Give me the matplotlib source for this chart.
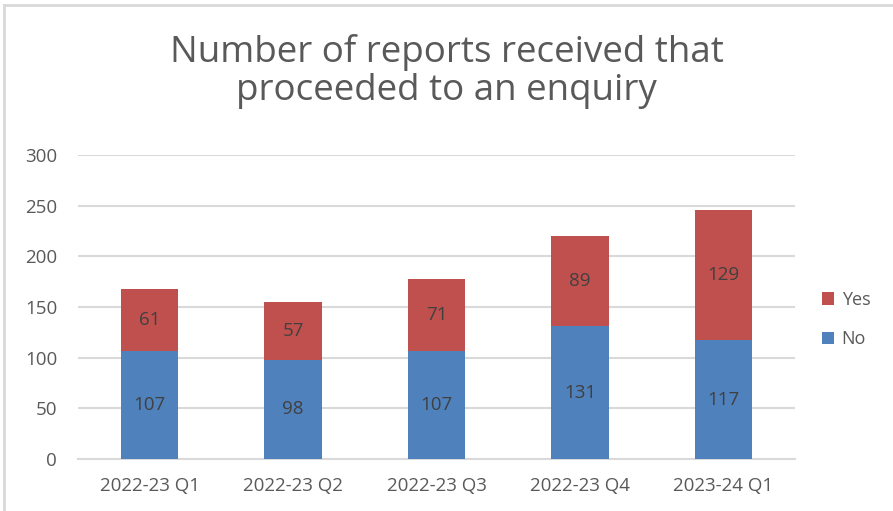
import numpy as np
import matplotlib.pyplot as plt
from matplotlib.lines import Line2D

plt.rcParams['font.family'] = ['Open Sans', 'DejaVu Sans']

quarters = ['2022-23 Q1', '2022-23 Q2', '2022-23 Q3', '2022-23 Q4', '2023-24 Q1']
no_counts = [107, 98, 107, 131, 117]
yes_counts = [61, 57, 71, 89, 129]

blue = '#4f81bd'
red = '#c0504d'
grid_col = '#d9d9d9'
text_col = '#595959'
label_col = '#404040'

fig = plt.figure(figsize=(8.93, 5.11), dpi=100)
ax = fig.add_axes([0.0873, 0.1018, 0.8030, 0.5949])

x = np.arange(len(quarters))
width = 0.4
bars_no = ax.bar(x, no_counts, width, color=blue, label='No', zorder=3)
bars_yes = ax.bar(x, yes_counts, width, bottom=no_counts, color=red, label='Yes', zorder=3)

# value labels in the middle of each segment
for b, v in zip(bars_no, no_counts):
    ax.text(b.get_x() + b.get_width() / 2, b.get_y() + v / 2, str(v),
            ha='center', va='center', fontsize=13.5, color=label_col, zorder=4)
for b, v in zip(bars_yes, yes_counts):
    ax.text(b.get_x() + b.get_width() / 2, b.get_y() + v / 2, str(v),
            ha='center', va='center', fontsize=13.5, color=label_col, zorder=4)

ax.set_xlim(-0.5, len(quarters) - 0.5)
ax.set_ylim(0, 300)
ax.set_yticks(range(0, 301, 50))
ax.set_xticks(x)
ax.set_xticklabels(quarters)
ax.tick_params(axis='both', length=0, labelsize=13.5, labelcolor=text_col)
ax.tick_params(axis='y', pad=15)
ax.tick_params(axis='x', pad=13)
ax.yaxis.grid(True, color=grid_col, linewidth=1.5, zorder=0)
for s in ['top', 'right', 'left']:
    ax.spines[s].set_visible(False)
ax.spines['bottom'].set_color(grid_col)
ax.spines['bottom'].set_linewidth(1.5)

fig.text(0.5, 0.86, 'Number of reports received that\nproceeded to an enquiry',
         ha='center', va='center', fontsize=26.5, color=text_col, linespacing=1.08)

handles, labels = ax.get_legend_handles_labels()
fig.legend(handles[::-1], labels[::-1], loc='center left', bbox_to_anchor=(0.902, 0.375),
           frameon=False, fontsize=13, labelcolor=text_col, handlelength=0.7,
           handleheight=0.7, handletextpad=0.4, labelspacing=1.2)

# light frame along the top and left edges
fig.add_artist(Line2D([0.005, 1.0], [0.991, 0.991], color=grid_col, linewidth=2, transform=fig.transFigure))
fig.add_artist(Line2D([0.005, 0.005], [0.0, 0.991], color=grid_col, linewidth=2, transform=fig.transFigure))

fig.savefig('out.png', dpi=100, facecolor='white')
